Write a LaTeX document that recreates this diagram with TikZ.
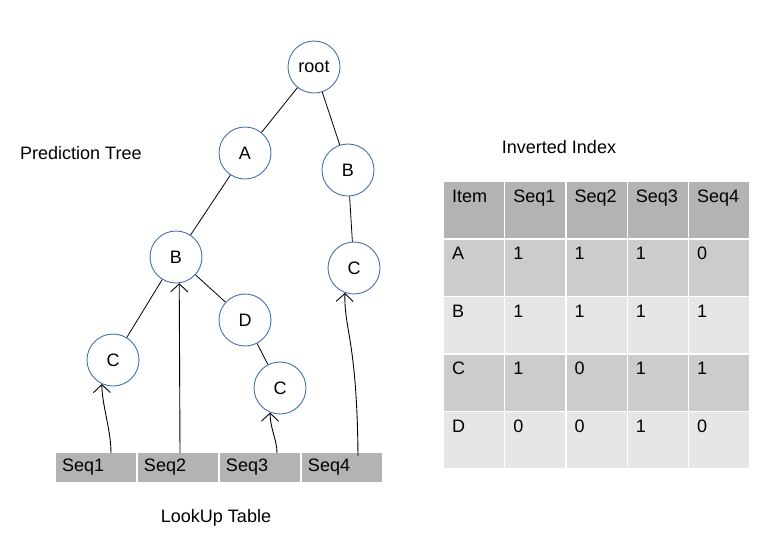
\documentclass[tikz,border=0pt]{standalone}
\usepackage{fontspec}
\setmainfont{Liberation Sans}
\usetikzlibrary{matrix,arrows.meta}
\definecolor{nodeblue}{RGB}{70,112,176}
\definecolor{hdrgray}{RGB}{179,179,179}
\definecolor{darkrow}{RGB}{204,204,204}
\definecolor{lightrow}{RGB}{230,230,230}

\begin{document}
\begin{tikzpicture}[x=1pt,y=-1pt,every node/.style={font=\fontsize{18}{21}\selectfont},
  tnode/.style={circle,draw=nodeblue,line width=0.9pt,minimum size=52pt,inner sep=0pt},
  treeline/.style={line width=0.8pt},
  ptr/.style={line width=0.9pt,-{Straight Barb[length=8pt,width=17pt]}}]
\useasboundingbox (0,0) rectangle (772,547);

% prediction tree
\node[tnode] (root) at (314,67) {root};
\node[tnode] (a) at (245,153) {A};
\node[tnode] (b2) at (348,170) {B};
\node[tnode] (b1) at (176,257) {B};
\node[tnode] (c3) at (354,268) {C};
\node[tnode] (d) at (245,320) {D};
\node[tnode] (c1) at (113,360) {C};
\node[tnode] (c2) at (280,388) {C};
\draw[treeline] (root) -- (a);
\draw[treeline] (root) -- (b2);
\draw[treeline] (a) -- (b1);
\draw[treeline] (b1) -- (c1);
\draw[treeline] (b1) -- (d);
\draw[treeline] (d) -- (c2);
\draw[treeline] (b2) -- (c3);

% lookup table
\matrix (lk) [matrix of nodes,column sep=2pt,anchor=north west,inner sep=0pt,outer sep=0pt,
  nodes={fill=hdrgray,minimum height=29pt,text width=68pt,inner xsep=6pt,inner ysep=0pt,align=left}]
  at (56,453)
{
Seq1 & Seq2 & Seq3 & Seq4 \\
};
\draw[ptr] ([xshift=15pt]lk-1-1.north) .. controls (111,430) and (102,405) .. (c1.-115);
\draw[ptr] ([xshift=2pt]lk-1-2.north) -- (b1.-83);
\draw[ptr] ([xshift=17pt]lk-1-3.north) .. controls (277,440) and (270,428) .. (c2.-112);
\draw[ptr] ([xshift=16pt,yshift=-3pt]lk-1-4.north) .. controls (357,340) and (344,330) .. (c3.-110);

% inverted index
\matrix (inv) [matrix of nodes,column sep=1.25pt,row sep=1.5pt,anchor=north west,inner sep=0pt,outer sep=0pt,
  nodes={fill=lightrow,text width=44pt,inner xsep=8pt,inner ysep=3pt,text height=17pt,text depth=33pt,align=left},
  row 1/.style={nodes={fill=hdrgray}},
  row 2/.style={nodes={fill=darkrow}},
  row 4/.style={nodes={fill=darkrow}}]
  at (444,182)
{
Item & Seq1 & Seq2 & Seq3 & Seq4 \\
A & 1 & 1 & 1 & 0 \\
B & 1 & 1 & 1 & 1 \\
C & 1 & 0 & 1 & 1 \\
D & 0 & 0 & 1 & 0 \\
};

% labels
\node[anchor=west,inner sep=0pt] (treelabel) at (20,153) {Prediction Tree};
\node (invlabel) at (559,147) {Inverted Index};
\node (lklabel) at (216,518) {LookUp Table};
\end{tikzpicture}
\end{document}
